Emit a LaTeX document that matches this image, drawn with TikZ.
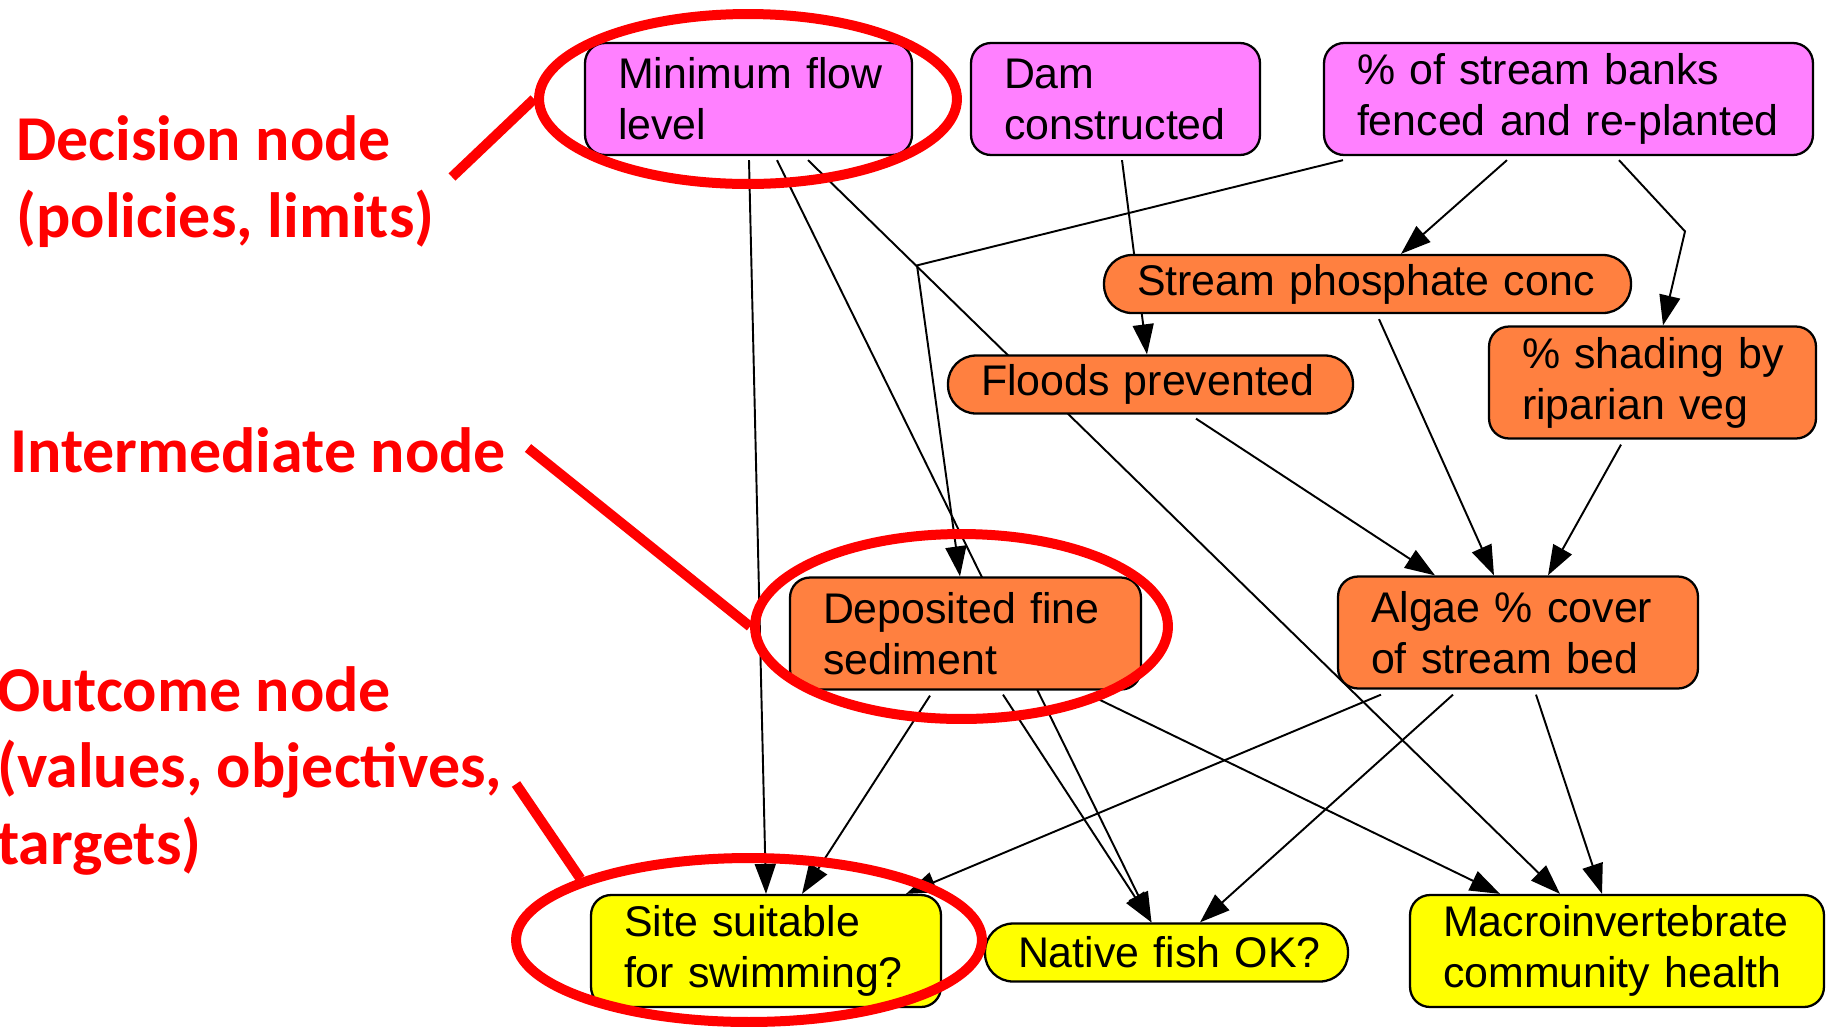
\documentclass[tikz,border=0pt]{standalone}
\usepackage{fontspec}
\setmainfont{Liberation Sans}
\newfontfamily\calloutfont{Carlito}
\usepackage{tikz}
\usetikzlibrary{arrows.meta, positioning, calc, backgrounds, shapes.geometric}
\definecolor{boxpink}{RGB}{255,128,255}
\definecolor{boxorange}{RGB}{255,128,64}
\definecolor{boxyellow}{RGB}{255,255,0}
\definecolor{markred}{RGB}{255,0,0}
\tikzset{
  mybox/.style={
    draw,
    line width=1.3pt,
    rounded corners=0.4cm,
    align=left,
    inner xsep=0.66cm,
    inner ysep=0pt,
    minimum height=2.24cm,
    font=\fontsize{24.4pt}{29pt}\selectfont
  },
  slim/.style={mybox, rounded corners=0.56cm, minimum height=1.16cm},
  decision/.style={mybox, fill=boxpink},
  inter/.style={mybox, fill=boxorange},
  outcome/.style={mybox, fill=boxyellow},
  arr/.style={-{Triangle[length=0.6cm, width=0.42cm]}, line width=1.1pt},
  ring/.style={draw=markred, line width=0.2cm, ellipse, inner sep=0pt},
  pointer/.style={draw=markred, line width=0.2cm},
  callout/.style={text=markred, anchor=base west, align=left, inner sep=0pt,
    font=\calloutfont\bfseries\fontsize{36.4pt}{43.5pt}\selectfont}
}

\begin{document}
\begin{tikzpicture}[x=0.02cm, y=-0.02cm]
\useasboundingbox (0,0) rectangle (1830,1029);

% Decision nodes
\node[decision, text width=5.22cm] (flow) at (748.5,99) {\mbox{Minimum flow}\\level};
\node[decision, text width=4.46cm] (dam) at (1115.5,99) {Dam\\constructed};
\node[decision, text width=8.46cm] (fence) at (1568.5,99) {\% of stream banks\\fenced and re-planted};

% Intermediate nodes
\node[inter, slim, text width=9.22cm] (phos) at (1367.5,284) {Stream phosphate conc};
\node[inter, slim, text width=6.78cm] (flood) at (1150.5,384.5) {Floods prevented};
\node[inter, text width=5.22cm] (shade) at (1652.5,382.5) {\mbox{\% shading by}\\riparian veg};
\node[inter, text width=5.7cm] (sed) at (965.5,633.5) {Deposited fine\\sediment};
\node[inter, text width=5.88cm] (algae) at (1518,632.5) {Algae \% cover\\of stream bed};

% Outcome nodes
\node[outcome, text width=5.68cm] (swim) at (766,951) {Site suitable\\for swimming?};
\node[outcome, slim, text width=5.94cm] (fish) at (1166.5,952.5) {\mbox{Native fish OK?}};
\node[outcome, text width=6.96cm] (macro) at (1617,951) {Macroinvertebrate\\\mbox{community health}};

% Links (behind the boxes)
\begin{scope}[on background layer]
\draw[arr] ($(flow.south)+(0.5,4)$) -- (swim.north);
\draw[arr] ($(flow.south)+(28.5,4)$) -- ($(fish.north)+(-15,0)$);
\draw[arr] ($(flow.south)+(59.5,4)$) -- ($(macro.north)+(-57,0)$);
\draw[arr] ($(dam.south)+(6.5,4)$) -- ($(flood.north)+(-3.5,0)$);
\draw[arr] ($(fence.south)+(-225.5,4)$) -- ($(sed.north)+(-48.5,-311)$) -- ($(sed.north)+(-5.5,0)$);
\draw[arr] ($(fence.south)+(-61.5,4)$) -- ($(phos.north)+(33.5,0)$);
\draw[arr] ($(fence.south)+(50.5,4)$) -- ($(shade.north)+(32.5,-94)$) -- ($(shade.north)+(10.5,0)$);
\draw[arr] ($(phos.south)+(11.5,5)$) -- ($(algae.north)+(-24,0)$);
\draw[arr] ($(flood.south)+(45.5,4)$) -- ($(algae.north)+(-83,0)$);
\draw[arr] ($(shade.south)+(-31.5,5)$) -- ($(algae.north)+(30,0)$);
\draw[arr] ($(sed.south)+(-35.5,5)$) -- ($(swim.north)+(36,0)$);
\draw[arr] ($(sed.south)+(37.5,4)$) -- ($(fish.north)+(-15,0)$);
\draw[arr] ($(sed.south)+(123.5,4)$) -- ($(macro.north)+(-117,0)$);
\draw[arr] ($(algae.south)+(-137,5)$) -- ($(swim.north)+(140,0)$);
\draw[arr] ($(algae.south)+(-65,5)$) -- ($(fish.north)+(33.5,0)$);
\draw[arr] ($(algae.south)+(18,5)$) -- ($(macro.north)+(-15,0)$);
\end{scope}

% Red call-outs
\node[ring, minimum width=8.36cm, minimum height=3.4cm] (ringDec) at (748,99) {};
\node[ring, minimum width=8.26cm, minimum height=3.7cm] (ringMid) at (961.5,626.5) {};
\node[ring, minimum width=9.32cm, minimum height=3.28cm] (ringOut) at (749,940) {};

\coordinate (decTail) at (452,177);
\coordinate (midTail) at (528,448);
\coordinate (outTail) at (516,784);
\draw[pointer] (decTail) -- (ringDec.west);
\draw[pointer] (midTail) -- (ringMid.west);
\draw[pointer] (outTail) -- (ringOut.160);

\node[callout] (decLabel) at (16,237) {Decision node\\(policies, limits)};
\node[callout] (midLabel) at (10,472) {Intermediate node};
\node[callout] (outLabel) at (-3,864) {Outcome node\\(values, objectives,\\targets)};

\end{tikzpicture}
\end{document}
